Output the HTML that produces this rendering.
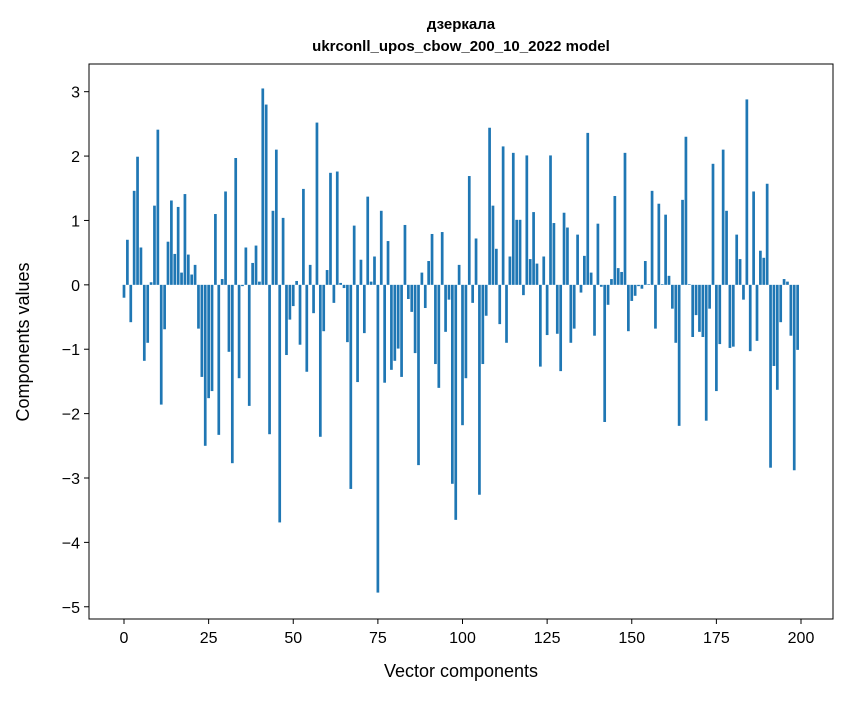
<!DOCTYPE html>
<html><head><meta charset="utf-8"><style>
body{margin:0;background:#fff;}
svg text{font-family:"Liberation Sans","DejaVu Sans",sans-serif;fill:#000;}
</style></head><body>
<svg id="chart" width="847" height="696" viewBox="0 0 847 696" xmlns="http://www.w3.org/2000/svg">
<rect width="847" height="696" fill="#fff"/>
<text x="461" y="29" text-anchor="middle" font-size="15" font-weight="bold">дзеркала</text>
<text x="461" y="51" text-anchor="middle" font-size="15" font-weight="bold">ukrconll_upos_cbow_200_10_2022 model</text>
<g id="bars"></g>
<g id="axes"></g>
<text x="461" y="677" text-anchor="middle" font-size="18">Vector components</text>
<text transform="translate(29,342) rotate(-90)" text-anchor="middle" font-size="18">Components values</text>
</svg>
<script>
const values = [-0.2,0.7,-0.58,1.46,1.99,0.58,-1.18,-0.9,0.04,1.23,2.41,-1.86,-0.69,0.67,1.31,0.48,1.21,0.19,1.41,0.47,
0.16,0.31,-0.68,-1.43,-2.5,-1.76,-1.65,1.1,-2.33,0.09,1.45,-1.04,-2.77,1.97,-1.45,-0.02,0.58,-1.88,0.34,0.61,
0.05,3.05,2.8,-2.32,1.15,2.1,-3.69,1.04,-1.09,-0.54,-0.33,0.06,-0.93,1.49,-1.35,0.31,-0.44,2.52,-2.36,-0.72,
0.23,1.74,-0.28,1.76,0.03,-0.05,-0.89,-3.17,0.92,-1.51,0.39,-0.75,1.37,0.05,0.44,-4.78,1.15,-1.52,0.68,-1.32,
-1.18,-0.99,-1.43,0.93,-0.22,-0.42,-1.06,-2.8,0.19,-0.36,0.37,0.79,-1.23,-1.6,0.82,-0.73,-0.23,-3.09,-3.65,0.31,
-2.18,-1.45,1.69,-0.28,0.72,-3.26,-1.23,-0.48,2.44,1.23,0.56,-0.61,2.15,-0.9,0.44,2.05,1.01,1.01,-0.16,2.01,
0.4,1.13,0.33,-1.27,0.44,-0.78,2.01,0.96,-0.76,-1.34,1.12,0.89,-0.9,-0.68,0.78,-0.12,0.45,2.36,0.19,-0.79,
0.95,-0.03,-2.13,-0.31,0.09,1.38,0.26,0.2,2.05,-0.72,-0.25,-0.17,-0.02,-0.06,0.37,0.01,1.46,-0.68,1.26,0.01,
1.09,0.14,-0.37,-0.9,-2.19,1.32,2.3,0.01,-0.81,-0.47,-0.73,-0.81,-2.11,-0.37,1.88,-1.65,-0.92,2.1,1.15,-0.98,
-0.96,0.78,0.4,-0.23,2.88,-1.03,1.45,-0.87,0.53,0.42,1.57,-2.84,-1.26,-1.63,-0.58,0.09,0.05,-0.79,-2.88,-1.01];
const xTicks = [0,25,50,75,100,125,150,175,200];
const yTicks = [3,2,1,0,-1,-2,-3,-4,-5];
const yTickLabels = ["3","2","1","0","\u22121","\u22122","\u22123","\u22124","\u22125"];

const L=89,R=833,T=64,B=619;
const xMin=-10.34,xMax=209.45,yMin=-5.19,yMax=3.43;
const xs=v=>L+(v-xMin)/(xMax-xMin)*(R-L);
const ys=v=>T+(yMax-v)/(yMax-yMin)*(B-T);
const NS="http://www.w3.org/2000/svg";
const bars=document.getElementById('bars');
values.forEach((v,i)=>{
  const r=document.createElementNS(NS,'rect');
  const x0=xs(i-0.4),x1=xs(i+0.4);
  const y0=ys(Math.max(v,0)),y1=ys(Math.min(v,0));
  r.setAttribute('x',x0);r.setAttribute('width',x1-x0);
  r.setAttribute('y',y0);r.setAttribute('height',Math.max(y1-y0,0));
  r.setAttribute('fill','#1f77b4');
  
  
  bars.appendChild(r);
});
const ax=document.getElementById('axes');
const frame=document.createElementNS(NS,'rect');
frame.setAttribute('x',L);frame.setAttribute('y',T);frame.setAttribute('width',R-L);frame.setAttribute('height',B-T);
frame.setAttribute('fill','none');frame.setAttribute('stroke','#000');frame.setAttribute('stroke-width','1');


ax.appendChild(frame);
xTicks.forEach(t=>{
  const x=xs(t);
  const l=document.createElementNS(NS,'line');
  l.setAttribute('x1',x);l.setAttribute('x2',x);l.setAttribute('y1',B);l.setAttribute('y2',B+5);l.setAttribute('stroke','#000');
  
  
  ax.appendChild(l);
  const tx=document.createElementNS(NS,'text');
  tx.setAttribute('x',x);tx.setAttribute('y',B+24);tx.setAttribute('text-anchor','middle');tx.setAttribute('font-size','16');
  tx.textContent=t;
  
  
  ax.appendChild(tx);
});
yTicks.forEach((t,i)=>{
  const y=ys(t);
  const l=document.createElementNS(NS,'line');
  l.setAttribute('x1',L-5);l.setAttribute('x2',L);l.setAttribute('y1',y);l.setAttribute('y2',y);l.setAttribute('stroke','#000');
  
  
  ax.appendChild(l);
  const tx=document.createElementNS(NS,'text');
  tx.setAttribute('x',L-9);tx.setAttribute('y',y+6);tx.setAttribute('text-anchor','end');tx.setAttribute('font-size','16');
  tx.textContent=yTickLabels[i];
  
  
  ax.appendChild(tx);
});
</script>
</body></html>
